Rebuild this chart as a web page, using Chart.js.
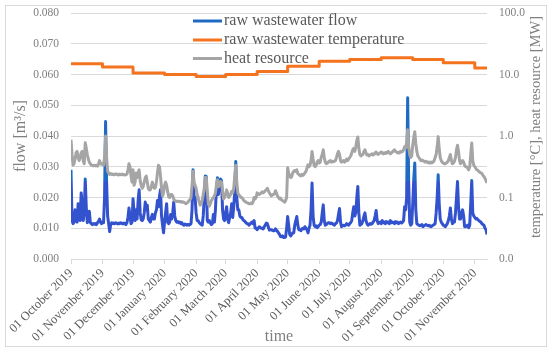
<!DOCTYPE html>
<html><head><meta charset="utf-8">
<script src="https://cdn.jsdelivr.net/npm/chart.js@4/dist/chart.umd.min.js"></script>
<style>html,body{margin:0;padding:0;background:#fff}canvas{display:block}</style>
</head><body>
<canvas id="c" width="550" height="354"></canvas>
<script>
// ---- tick labels (x axis: day index from 01 October 2019) ----
const monthStarts = [0,31,61,92,123,152,183,213,244,274,305,336,366,397];
const monthLabels = ['01 October 2019','01 November 2019','01 December 2019','01 January 2020','01 February 2020','01 March 2020','01 April 2020','01 May 2020','01 June 2020','01 July 2020','01 August 2020','01 September 2020','01 October 2020','01 November 2020'];
const rightTicks = [0.01,0.1,1,10,100];
const seriesNames = ['raw wastewater flow','raw wastewater temperature','heat resource'];

// ---- raw wastewater flow [m3/s], daily ----
const flow = [
0.0290,0.0125,0.0115,0.0120,0.0160,0.0125,0.0120,0.0180,0.0150,0.0125,
0.0215,0.0180,0.0125,0.0150,0.0260,0.0170,0.0118,0.0130,0.0155,0.0118,
0.0115,0.0112,0.0115,0.0113,0.0115,0.0112,0.0118,0.0122,0.0130,0.0120,
0.0115,0.0120,0.0118,0.0200,0.0447,0.0250,0.0140,0.0115,0.0089,0.0112,
0.0118,0.0115,0.0117,0.0115,0.0118,0.0116,0.0114,0.0117,0.0115,0.0118,
0.0116,0.0114,0.0117,0.0115,0.0112,0.0118,0.0135,0.0166,0.0140,0.0115,
0.0120,0.0196,0.0150,0.0125,0.0160,0.0130,0.0190,0.0225,0.0150,0.0128,
0.0125,0.0130,0.0150,0.0185,0.0160,0.0175,0.0130,0.0125,0.0120,0.0135,
0.0145,0.0130,0.0130,0.0150,0.0160,0.0190,0.0170,0.0203,0.0225,0.0140,
0.0110,0.0085,0.0120,0.0150,0.0180,0.0120,0.0115,0.0120,0.0145,0.0130,
0.0150,0.0185,0.0140,0.0125,0.0120,0.0122,0.0118,0.0120,0.0115,0.0118,
0.0112,0.0110,0.0114,0.0112,0.0110,0.0113,0.0110,0.0112,0.0115,0.0160,
0.0290,0.0200,0.0200,0.0150,0.0125,0.0125,0.0118,0.0115,0.0112,0.0110,
0.0140,0.0200,0.0270,0.0268,0.0125,0.0120,0.0125,0.0117,0.0112,0.0115,
0.0145,0.0120,0.0160,0.0230,0.0264,0.0210,0.0240,0.0260,0.0255,0.0160,
0.0130,0.0125,0.0150,0.0170,0.0130,0.0118,0.0135,0.0150,0.0180,0.0135,
0.0170,0.0220,0.0317,0.0200,0.0160,0.0160,0.0140,0.0135,0.0135,0.0128,
0.0125,0.0122,0.0118,0.0115,0.0115,0.0110,0.0113,0.0118,0.0120,0.0115,
0.0125,0.0101,0.0100,0.0095,0.0100,0.0105,0.0102,0.0100,0.0100,0.0098,
0.0105,0.0110,0.0117,0.0115,0.0105,0.0094,0.0095,0.0095,0.0093,0.0092,
0.0092,0.0098,0.0094,0.0090,0.0085,0.0080,0.0073,0.0072,0.0075,0.0070,
0.0070,0.0072,0.0100,0.0138,0.0110,0.0080,0.0075,0.0080,0.0085,0.0085,
0.0110,0.0125,0.0138,0.0110,0.0095,0.0095,0.0092,0.0098,0.0100,0.0098,
0.0105,0.0100,0.0095,0.0085,0.0100,0.0110,0.0160,0.0247,0.0140,0.0110,
0.0105,0.0108,0.0102,0.0105,0.0110,0.0112,0.0120,0.0150,0.0176,0.0125,
0.0110,0.0112,0.0115,0.0118,0.0118,0.0115,0.0117,0.0115,0.0112,0.0110,
0.0115,0.0117,0.0125,0.0145,0.0164,0.0120,0.0105,0.0108,0.0110,0.0108,
0.0110,0.0115,0.0112,0.0110,0.0115,0.0118,0.0125,0.0150,0.0170,0.0140,
0.0150,0.0200,0.0236,0.0150,0.0110,0.0112,0.0115,0.0125,0.0140,0.0150,
0.0125,0.0115,0.0110,0.0112,0.0115,0.0113,0.0115,0.0120,0.0125,0.0140,
0.0158,0.0125,0.0115,0.0118,0.0120,0.0115,0.0125,0.0118,0.0120,0.0115,
0.0122,0.0118,0.0120,0.0115,0.0125,0.0118,0.0120,0.0118,0.0115,0.0122,
0.0118,0.0120,0.0115,0.0118,0.0120,0.0117,0.0120,0.0125,0.0170,0.0160,
0.0200,0.0524,0.0250,0.0120,0.0110,0.0115,0.0180,0.0260,0.0312,0.0160,
0.0115,0.0112,0.0110,0.0108,0.0110,0.0112,0.0105,0.0108,0.0110,0.0112,
0.0110,0.0108,0.0110,0.0107,0.0105,0.0108,0.0110,0.0112,0.0115,0.0150,
0.0200,0.0274,0.0180,0.0130,0.0120,0.0115,0.0110,0.0108,0.0105,0.0110,
0.0115,0.0125,0.0140,0.0166,0.0130,0.0115,0.0120,0.0120,0.0150,0.0200,
0.0252,0.0170,0.0130,0.0130,0.0150,0.0160,0.0140,0.0105,0.0105,0.0108,
0.0110,0.0102,0.0110,0.0180,0.0255,0.0150,0.0140,0.0135,0.0130,0.0132,
0.0128,0.0125,0.0122,0.0120,0.0115,0.0112,0.0110,0.0100,0.0095,0.0080
];

// ---- heat resource [MW], daily ----
const heat = [
0.871,0.501,0.335,0.355,0.422,0.531,0.562,0.447,0.398,0.447,
0.531,0.562,0.398,0.355,0.776,0.631,0.501,0.422,0.376,0.355,
0.335,0.335,0.327,0.335,0.327,0.335,0.324,0.347,0.398,0.363,
0.347,0.355,0.335,0.447,1.00,0.447,0.266,0.251,0.237,0.245,
0.237,0.240,0.234,0.237,0.243,0.237,0.232,0.240,0.234,0.237,
0.240,0.234,0.237,0.232,0.234,0.240,0.282,0.355,0.316,0.224,
0.178,0.282,0.158,0.178,0.251,0.211,0.251,0.282,0.188,0.158,
0.141,0.151,0.178,0.211,0.224,0.178,0.141,0.133,0.133,0.150,
0.178,0.150,0.141,0.145,0.178,0.251,0.335,0.316,0.224,0.141,
0.106,0.119,0.158,0.178,0.158,0.126,0.103,0.100,0.112,0.112,
0.106,0.0944,0.0891,0.0871,0.0861,0.0871,0.0861,0.0851,0.0861,0.0841,
0.0851,0.0832,0.0813,0.0794,0.0813,0.0841,0.0891,0.0912,0.100,0.158,
0.266,0.178,0.158,0.141,0.112,0.100,0.0841,0.0750,0.0794,0.0891,
0.112,0.141,0.211,0.211,0.126,0.0794,0.0724,0.0794,0.0891,0.0944,
0.100,0.106,0.119,0.158,0.195,0.150,0.158,0.182,0.178,0.126,
0.0944,0.100,0.112,0.133,0.119,0.100,0.106,0.112,0.126,0.119,
0.141,0.224,0.335,0.178,0.119,0.111,0.106,0.100,0.100,0.0944,
0.0891,0.0861,0.0841,0.0822,0.0813,0.0794,0.0794,0.0813,0.0794,0.0841,
0.100,0.0944,0.100,0.119,0.115,0.112,0.115,0.119,0.124,0.119,
0.123,0.129,0.133,0.141,0.129,0.119,0.112,0.106,0.110,0.112,
0.115,0.129,0.119,0.106,0.100,0.0944,0.0977,0.0912,0.0891,0.0871,
0.0841,0.0891,0.100,0.305,0.251,0.224,0.211,0.219,0.251,0.266,
0.275,0.266,0.282,0.245,0.237,0.229,0.224,0.237,0.229,0.237,
0.251,0.266,0.299,0.339,0.316,0.335,0.398,0.562,0.422,0.335,
0.316,0.335,0.376,0.398,0.363,0.376,0.447,0.501,0.596,0.447,
0.376,0.355,0.363,0.376,0.389,0.398,0.376,0.389,0.380,0.389,
0.398,0.447,0.513,0.562,0.501,0.398,0.376,0.389,0.398,0.376,
0.398,0.422,0.398,0.422,0.447,0.473,0.531,0.596,0.631,0.562,
0.668,0.841,0.966,0.631,0.501,0.473,0.490,0.501,0.562,0.596,
0.531,0.490,0.501,0.473,0.490,0.501,0.513,0.490,0.501,0.531,
0.550,0.513,0.501,0.519,0.531,0.550,0.531,0.513,0.531,0.519,
0.543,0.531,0.562,0.537,0.513,0.531,0.550,0.575,0.596,0.562,
0.550,0.531,0.543,0.531,0.562,0.550,0.562,0.596,0.668,0.631,
0.794,1.26,0.668,0.501,0.447,0.473,0.708,0.944,1.17,0.750,
0.562,0.473,0.447,0.422,0.398,0.407,0.398,0.389,0.376,0.389,
0.376,0.367,0.376,0.363,0.376,0.367,0.376,0.398,0.447,0.501,
0.668,0.977,0.631,0.447,0.398,0.376,0.363,0.355,0.355,0.363,
0.376,0.398,0.447,0.501,0.398,0.355,0.363,0.389,0.447,0.596,
0.708,0.562,0.398,0.355,0.376,0.398,0.376,0.335,0.316,0.316,
0.299,0.282,0.316,0.501,0.767,0.398,0.335,0.316,0.299,0.282,
0.275,0.266,0.257,0.251,0.245,0.229,0.219,0.204,0.188,0.172
];

// ---- raw wastewater temperature [°C], monthly steps (day index of change) ----
const tempDays = [0,31,61,92,123,152,183,213,244,274,305,336,366,397,409];
const temperature = [15.0,13.3,10.6,10.0,9.3,10.0,11.2,13.6,16.4,17.6,18.8,17.6,15.5,12.7,12.7];

const FONT = "'Liberation Serif','DejaVu Serif',serif";
const COL_FLOW = '#1F6BC4', COL_FLOW_LOW = '#3352CE', COL_TEMP = '#F4731F', COL_HEAT = '#A5A5A5';

function flowGradient(ctx) {
  const chart = ctx.chart, area = chart.chartArea;
  if (!area) return COL_FLOW;
  const yb = chart.scales.y.getPixelForValue(0.0255);
  const s = Math.min(1, Math.max(0, (yb - area.top) / (area.bottom - area.top)));
  const g = chart.ctx.createLinearGradient(0, area.top, 0, area.bottom);
  g.addColorStop(0, COL_FLOW); g.addColorStop(s, COL_FLOW);
  g.addColorStop(s, COL_FLOW_LOW); g.addColorStop(1, COL_FLOW_LOW);
  return g;
}

const decor = {
  id: 'decor',
  afterDraw(chart) {
    const c = chart.ctx, a = chart.chartArea;
    c.save();
    // outer frame
    c.strokeStyle = '#d9d9d9'; c.lineWidth = 1;
    c.strokeRect(5.5, 5.5, 541, 341);
    // axis titles
    c.fillStyle = '#7f7f7f'; c.font = '16px ' + FONT;
    c.textAlign = 'center'; c.textBaseline = 'middle';
    c.save(); c.translate(21, 136); c.rotate(-Math.PI / 2);
    c.fillText('flow [m³/s]', 0, 0); c.restore();
    c.font = '14.5px ' + FONT;
    c.save(); c.translate(536, 127); c.rotate(-Math.PI / 2);
    c.fillText('temperature [°C], heat resource [MW]', 0, 0); c.restore();
    c.font = '16px ' + FONT;
    c.fillText('time', (a.left + a.right) / 2, 337);
    // legend
    const cols = [COL_FLOW, COL_TEMP, COL_HEAT];
    const rows = [21, 40, 58.5];
    c.font = '16px ' + FONT; c.textAlign = 'left'; c.fillStyle = '#595959';
    chart.data.datasets.forEach((ds, i) => {
      c.strokeStyle = cols[i]; c.lineWidth = 3;
      c.beginPath(); c.moveTo(193, rows[i]); c.lineTo(222, rows[i]); c.stroke();
      c.fillText(ds.label, 224, rows[i]);
    });
    c.restore();
  }
};

new Chart(document.getElementById('c'), {
  type: 'line',
  data: {
    datasets: [
      { label: seriesNames[0], data: flow.map((v, i) => ({ x: i, y: v })), yAxisID: 'y',
        borderColor: flowGradient, borderWidth: 3, order: 3 },
      { label: seriesNames[1], data: temperature.map((v, i) => ({ x: tempDays[i], y: v })), yAxisID: 'y2',
        stepped: true, borderColor: COL_TEMP, borderWidth: 3, order: 2 },
      { label: seriesNames[2], data: heat.map((v, i) => ({ x: i, y: v })), yAxisID: 'y2',
        borderColor: COL_HEAT, borderWidth: 3, order: 1 }
    ]
  },
  options: {
    responsive: false, animation: false, events: [],
    layout: { padding: { top: 13, left: 0, right: 0, bottom: 0 } },
    elements: { point: { radius: 0 }, line: { tension: 0, borderJoinStyle: 'round' } },
    plugins: { legend: { display: false }, tooltip: { enabled: false } },
    scales: {
      x: {
        type: 'linear', min: 0, max: 409,
        afterBuildTicks: s => { s.ticks = monthStarts.map(v => ({ value: v })); },
        ticks: { autoSkip: false, minRotation: 45, maxRotation: 45, padding: 2,
          color: '#595959', font: { family: FONT, size: 12.5 },
          callback: (v, i) => monthLabels[i] },
        grid: { drawOnChartArea: false, drawTicks: true, tickLength: 5, color: '#d9d9d9' },
        border: { color: '#d9d9d9' },
        afterFit: s => { s.height = 95; }
      },
      y: {
        position: 'left', min: 0, max: 0.08,
        ticks: { stepSize: 0.01, callback: v => v.toFixed(3), color: '#7f7f7f',
          font: { family: FONT, size: 11.5 }, padding: 0 },
        grid: { color: '#d9d9d9', drawTicks: true, tickLength: 12, tickColor: 'rgba(0,0,0,0)' },
        border: { display: false },
        afterFit: s => { s.width = 71; }
      },
      y2: {
        type: 'logarithmic', position: 'right', min: 0.01, max: 100,
        afterBuildTicks: s => { s.ticks = rightTicks.map(v => ({ value: v })); },
        ticks: { callback: v => Number(v).toFixed(1), color: '#7f7f7f',
          font: { family: FONT, size: 11.5 }, padding: 0 },
        grid: { drawOnChartArea: false, drawTicks: true, tickLength: 12, tickColor: 'rgba(0,0,0,0)' },
        border: { display: false },
        afterFit: s => { s.width = 63; }
      }
    }
  },
  plugins: [decor]
});
</script>
</body></html>
